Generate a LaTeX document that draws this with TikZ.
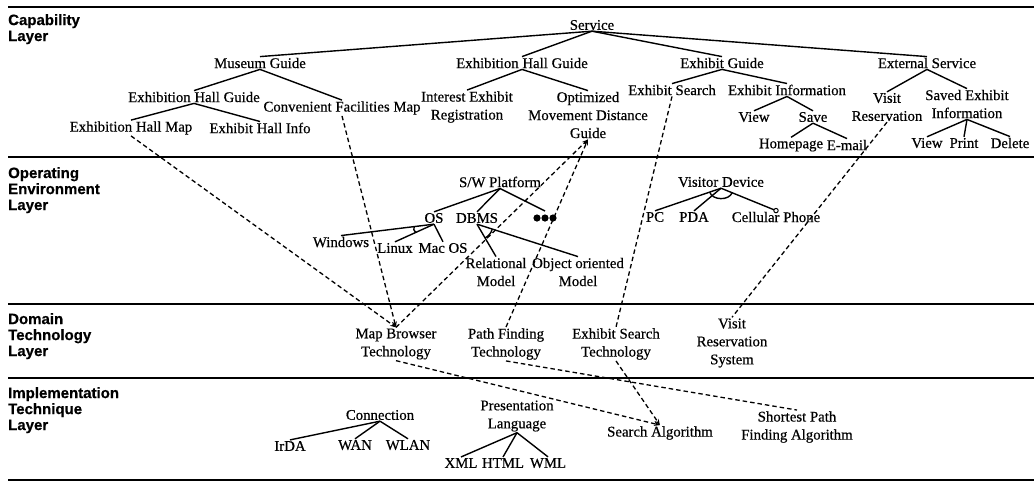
\documentclass[tikz,border=0pt]{standalone}
\usepackage{fontspec}
\setmainfont[FakeBold=0.5]{Liberation Serif}
\newfontfamily\lsans[FakeBold=0.6]{Liberation Sans}
\usetikzlibrary{arrows.meta,calc}
\begin{document}
\begin{tikzpicture}[x=1pt,y=-1pt,
  lbl/.style={font=\fontsize{14.8}{18}\selectfont, align=center, inner sep=1pt},
  layer/.style={font=\lsans\bfseries\fontsize{15}{16}\selectfont, align=left, anchor=north west, inner sep=0pt},
  rule/.style={line width=2.2pt},
  edge/.style={line width=1.4pt},
  trace/.style={line width=1.3pt, dash pattern=on 4.5pt off 3pt},
  tip/.style={-{Stealth[length=6pt,width=4.5pt]}}
]
\useasboundingbox (0,0) rectangle (1034,483);
% layer rules
\draw[rule] (8,7) -- (1034,7);
\draw[rule] (8,157) -- (1034,157);
\draw[rule] (8,304) -- (1034,304);
\draw[rule] (8,378) -- (1034,378);
\draw[rule] (8,480) -- (1034,480);
% layer labels
\node[layer] (L1) at (8,14) {Capability\\Layer};
\node[layer] (L2) at (8,167) {Operating\\Environment\\Layer};
\node[layer] (L3) at (8,313) {Domain\\Technology\\Layer};
\node[layer] (L4) at (8,387) {Implementation\\Technique\\Layer};

% Capability layer
\node[lbl] (svc) at (592,25) {Service};
\node[lbl] (mg) at (260,63) {Museum Guide};
\node[lbl] (ehg1) at (194,97) {Exhibition Hall Guide};
\node[lbl] (cfm) at (342,108) {Convenient Facilities Map};
\node[lbl] (ehm) at (131,128) {Exhibition Hall Map};
\node[lbl] (ehi) at (260,128) {Exhibit Hall Info};
\node[lbl] (ehg2) at (522,63) {Exhibition Hall Guide};
\node[lbl] (ier) at (467,107) {Interest Exhibit\\Registration};
\node[lbl] (omd) at (588,115) {Optimized\\Movement Distance\\Guide};
\node[lbl] (eg) at (722,63) {Exhibit Guide};
\node[lbl] (es) at (672,90) {Exhibit Search};
\node[lbl] (ei) at (787,90) {Exhibit Information};
\node[lbl] (view) at (754,117) {View};
\node[lbl] (save) at (813,117) {Save};
\node[lbl] (home) at (791,145) {Homepage};
\node[lbl] (email) at (847,145) {E-mail};
\node[lbl] (ext) at (927,63) {External Service};
\node[lbl] (vr) at (887,107) {Visit\\Reservation};
\node[lbl] (sei) at (967,104) {Saved Exhibit\\Information};
\node[lbl] (view2) at (927,143) {View};
\node[lbl] (print) at (964,143) {Print};
\node[lbl] (del) at (1010,143) {Delete};

\draw[edge] (svc.south) -- (mg.north);
\draw[edge] (svc.south) -- (ehg2.north);
\draw[edge] (svc.south) -- (eg.north);
\draw[edge] (svc.south) -- (ext.north);
\draw[edge] (mg.south) -- (ehg1.north);
\draw[edge] (mg.south) -- (cfm.north);
\draw[edge] (ehg1.south) -- (ehm.north);
\draw[edge] (ehg1.south) -- (ehi.north);
\draw[edge] (ehg2.south) -- (ier.north);
\draw[edge] (ehg2.south) -- (omd.north);
\draw[edge] (eg.south) -- (es.north);
\draw[edge] (eg.south) -- (ei.north);
\draw[edge] (ei.south) -- (view.north);
\draw[edge] (ei.south) -- (save.north);
\draw[edge] (save.south) -- (home.north);
\draw[edge] (save.south) -- (email.north);
\draw[edge] (ext.south) -- (vr.north);
\draw[edge] (ext.south) -- (sei.north);
\draw[edge] (sei.south) -- (view2.north);
\draw[edge] (sei.south) -- (print.north);
\draw[edge] (sei.south) -- (del.north);

% Operating environment layer
\node[lbl] (swp) at (500,182) {S/W Platform};
\node[lbl] (os) at (434,218) {OS};
\node[lbl] (dbms) at (477,218) {DBMS};
\coordinate (dots) at (545,218);
\coordinate (dotstop) at (545,211);
\fill (dots) ++(-8,0) circle (3.6pt);
\fill (dots) circle (3.6pt);
\fill (dots) ++(8,0) circle (3.6pt);
\node[lbl] (win) at (341,242) {Windows};
\node[lbl] (linux) at (395,248) {Linux};
\node[lbl] (mac) at (443,248) {Mac OS};
\node[lbl] (rel) at (496,272) {Relational\\Model};
\node[lbl] (oo) at (578,272) {Object oriented\\Model};
\node[lbl] (vd) at (721,182) {Visitor Device};
\node[lbl] (pc) at (655,217) {PC};
\node[lbl] (pda) at (694,217) {PDA};
\node[lbl] (cell) at (776,217) {Cellular Phone};

\draw[edge] (swp.south) -- (os.north);
\draw[edge] (swp.south) -- (dbms.north);
\draw[edge] (swp.south) -- (dotstop);
\draw[edge] (os.south) -- (win.north);
\draw[edge] (os.south) -- (linux.north);
\draw[edge] (os.south) -- (mac.north);
\draw[edge] ($(os.south)!20pt!(win.north)$) to[bend right=40] ($(os.south)!20pt!(linux.north)$);
\draw[edge] (dbms.south) -- (rel.north);
\draw[edge] (dbms.south) -- (oo.north);
\draw[edge] ($(dbms.south)!16pt!(rel.north)$) to[bend right=22] ($(dbms.south)!16pt!(oo.north)$);
\draw[edge] (vd.south) -- (pc.north);
\draw[edge] (vd.south) -- (pda.north);
\draw[edge] (vd.south) -- (cell.north);
\draw[edge] ($(vd.south)!12pt!(pc.north)$) to[bend right=70] ($(vd.south)!12pt!(cell.north)$);
\draw[line width=1pt, fill=white] (cell.north) circle (2.2pt);

% Domain technology layer
\node[lbl] (mbt) at (396,344) {Map Browser\\Technology};
\node[lbl] (pft) at (506,344) {Path Finding\\Technology};
\node[lbl] (est) at (616,344) {Exhibit Search\\Technology};
\node[lbl] (vrs) at (732,343) {Visit\\Reservation\\System};

% Implementation technique layer
\node[lbl] (conn) at (380,415) {Connection};
\node[lbl] (irda) at (290,446) {IrDA};
\node[lbl] (wan) at (355,445) {WAN};
\node[lbl] (wlan) at (408,445) {WLAN};
\node[lbl] (pl) at (517,416) {Presentation\\Language};
\node[lbl] (xml) at (461,463) {XML};
\node[lbl] (html) at (503,463) {HTML};
\node[lbl] (wml) at (548,463) {WML};
\node[lbl] (sa) at (660,433) {Search Algorithm};
\node[lbl] (spfa) at (797,427) {Shortest Path\\Finding Algorithm};

\draw[edge] (conn.south) -- (irda.north);
\draw[edge] (conn.south) -- (wan.north);
\draw[edge] (conn.south) -- (wlan.north);
\draw[edge] (pl.south) -- (xml.north);
\draw[edge] (pl.south) -- (html.north);
\draw[edge] (pl.south) -- (wml.north);

% trace links
\draw[trace, tip] (ehm.south) -- (mbt.north);
\draw[trace, tip] (cfm.south) -- (mbt.north);
\draw[trace, tip] (mbt.north) -- (omd.south);
\draw[trace, tip] (pft.north) -- (omd.south);
\draw[trace] (es.south) -- (est.north);
\draw[trace] (vr.south) -- (vrs.north);
\draw[trace, tip] (mbt.south) -- (sa.north);
\draw[trace, tip] (est.south) -- (sa.north);
\draw[trace] (pft.south) -- (spfa.north);
\end{tikzpicture}
\end{document}
